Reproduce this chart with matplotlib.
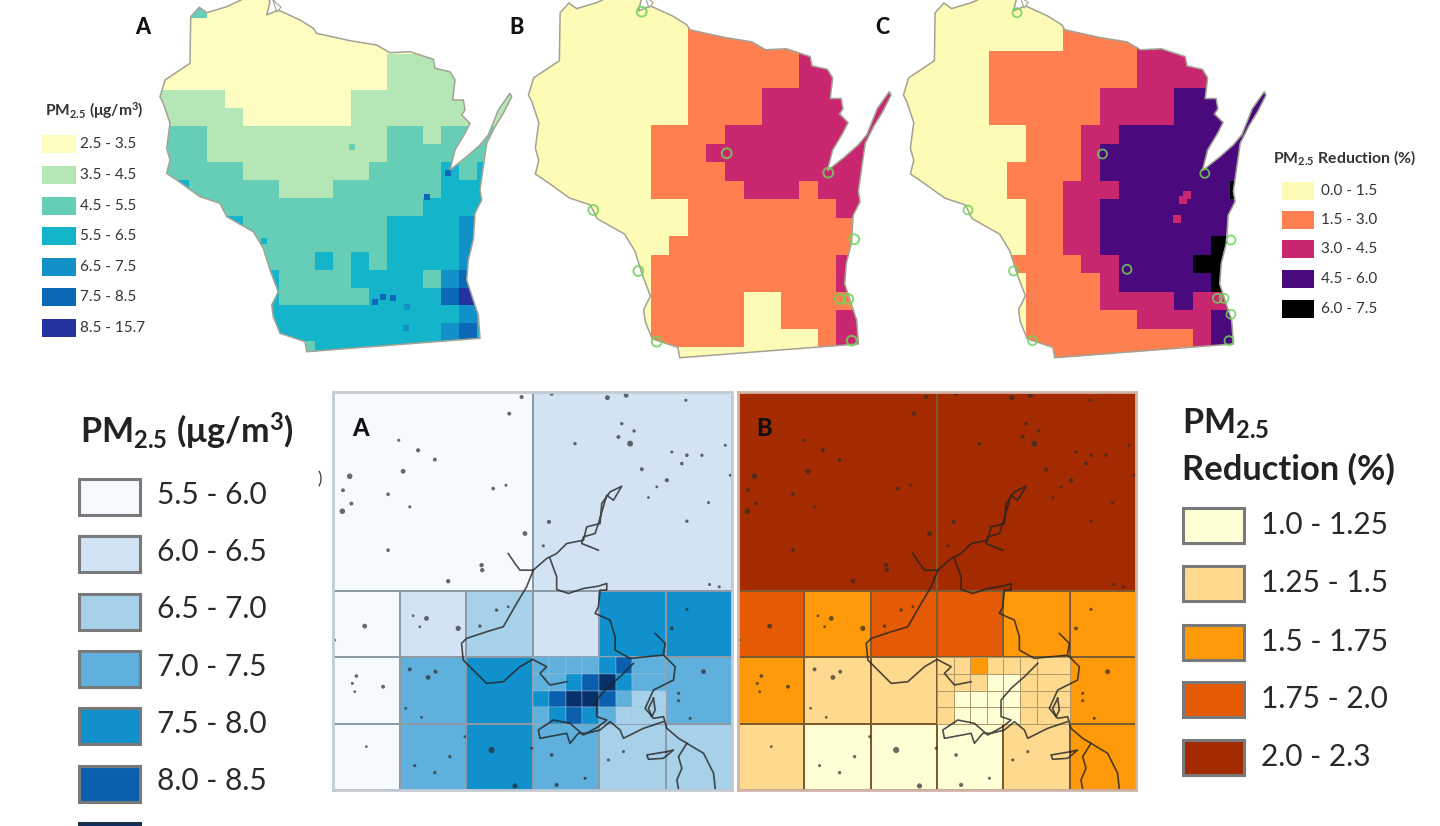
import numpy as np
import matplotlib
matplotlib.use("Agg")
import matplotlib.pyplot as plt
from matplotlib.colors import ListedColormap, BoundaryNorm
from matplotlib.patches import Polygon, Rectangle

plt.rcParams['font.family'] = ['Lato', 'DejaVu Sans']
plt.rcParams['mathtext.fontset'] = 'custom'
plt.rcParams['mathtext.rm'] = 'Lato'
plt.rcParams['mathtext.it'] = 'Lato:italic'
plt.rcParams['mathtext.bf'] = 'Lato:bold'
plt.rcParams['mathtext.default'] = 'bf'

# ---------- top maps: data ----------
pm_labels = ['2.5 - 3.5', '3.5 - 4.5', '4.5 - 5.5', '5.5 - 6.5', '6.5 - 7.5', '7.5 - 8.5', '8.5 - 15.7']
pm_colors = ['#FDFDC2', '#B4E6B6', '#66CEB6', '#14B5CB', '#1191C8', '#0A68B6', '#2432A0']
red_labels = ['0.0 - 1.5', '1.5 - 3.0', '3.0 - 4.5', '4.5 - 6.0', '6.0 - 7.5']
red_colors = ['#FDFBB6', '#FF7F50', '#C8276F', '#4A0A7E', '#000000']

map_a = [
    "00200000000000000000",
    "00000000000000000000",
    "00000000000000000000",
    "00000000000001111111",
    "00000000000001111111",
    "11110000000111111111",
    "11111000000111111111",
    "22211111111112212222",
    "22211111111112222222",
    "22222111111122223233",
    "23222221112222223333",
    "22222222222222233333",
    "22223222222223333433",
    "22222222222223333433",
    "22222222232323333433",
    "22222232222333324533",
    "22222232222233335633",
    "33333333333333333433",
    "33333333333333334533",
    "33333333233333333333",
]
map_b = [
    "00000000011111111111",
    "00000000011111111111",
    "00000000011111111111",
    "00000000011111122222",
    "00000000011111122222",
    "00000000011112222222",
    "00000000011112222222",
    "00000001111222222222",
    "00000001112222222222",
    "00000001111222222222",
    "00000001111122212222",
    "00000000011111111222",
    "00000000011111111111",
    "00000000111111111111",
    "00000001111111111222",
    "00000001111111111222",
    "00000001111100111111",
    "00000001111100111222",
    "00000001111100001222",
    "00000000000000000222",
]
map_c = [
    "00000000011111111111",
    "00000000011111111111",
    "00000000011112222222",
    "00000111111112222222",
    "00000111111112222222",
    "00000111111222233333",
    "00000111111222233333",
    "00000001112233333333",
    "00000001112333333333",
    "00000011112333333333",
    "00000011122233333343",
    "00000001122333333333",
    "00000001122333333333",
    "00000001122333333433",
    "00000011112233334433",
    "00000001111233333433",
    "00000001111222232222",
    "00000001111112222333",
    "00000001111111112333",
    "00000001111111112333",
]
outline_x = [190.7, 199.3, 206.7, 226.7, 245, 268, 270, 266.7, 278.3, 300, 313.3, 316.7, 350, 376.7, 390, 410, 433.3, 435,
             450, 455, 452.7, 463.3, 465, 461.7, 470, 465, 455, 450, 466.7, 480, 488.3, 498.3, 510, 511.7, 503.3, 495,
             486.7, 483.3, 480, 481.7, 475, 473.3, 468.3, 466.7, 473.3, 478.3, 480, 306.7, 305, 280, 273.3, 271.7, 278.3,
             270, 263.3, 253.3, 226.7, 220, 200, 176.7, 166.7, 170, 166.7, 170, 163.3, 160, 165, 190]
outline_y = [16.7, 7.3, 12.7, 6.7, -2, -2, 2, 15, 10, 20, 28.3, 33.3, 40.7, 45, 52.7, 51.7, 59.3, 68.3,
             71.7, 80, 100, 100, 110, 115, 123.3, 133.3, 150, 170, 156.7, 145, 135, 110, 93.3, 96.7, 113.3, 126.7,
             143.3, 166.7, 190, 200, 213.3, 240, 260, 280, 300, 315, 338.3, 351.7, 341.7, 333.3, 316.7, 305, 291.7,
             270, 248.3, 231.7, 216.7, 203.3, 196.7, 180, 173.3, 160, 148.3, 123.3, 103.3, 96.7, 80, 63.3]
bay_x = [272, 276, 281, 277, 272]
bay_y = [-2, 3, 7, 12, -2]
spots_a_x = [375, 383, 393, 427, 448, 407, 406, 352, 264]
spots_a_y = [302, 297, 298, 197, 173, 307, 328, 147, 241]
spots_a_c = [5, 5, 5, 5, 5, 4, 4, 2, 3]

sites_b_x = [641.7, 726.7, 828.3, 593.3, 854.3, 638.3, 840, 848.3, 656.7, 851.7]
sites_b_y = [11.7, 153.3, 172.7, 210, 239.3, 271, 299, 299, 341.7, 340.7]
sites_c_x = [1017, 1102.5, 1204.8, 968, 1231, 1013.5, 1127, 1217.4, 1224, 1231, 1032.5, 1229]
sites_c_y = [12.7, 154, 173.3, 210, 240, 271, 269.3, 298.3, 298.3, 314.3, 340.7, 340.7]
spots_c_x = [1183, 1187, 1177]
spots_c_y = [200, 195, 219]

# ---------- bottom panels: data ----------
blue_labels = ['5.5 - 6.0', '6.0 - 6.5', '6.5 - 7.0', '7.0 - 7.5', '7.5 - 8.0', '8.0 - 8.5']
blue_colors = ['#F6FAFE', '#D2E4F4', '#A7D0E9', '#5FB0DD', '#1090CC', '#0A60AE', '#08306B']
orange_labels = ['1.0 - 1.25', '1.25 - 1.5', '1.5 - 1.75', '1.75 - 2.0', '2.0 - 2.3']
orange_colors = ['#FFFFD6', '#FED98E', '#FE9A0A', '#E55A05', '#A42B00']

coarse_a = [[0, 1]]
coarse_b = [[4, 4]]
medium_a = [[0, 1, 2, 1, 4, 4], [0, 3, 4, 3, 3, 3], [0, 3, 4, 3, 2, 2]]
medium_b = [[3, 2, 3, 3, 2, 2], [2, 1, 1, 1, 1, 2], [1, 0, 0, 0, 1, 2]]
fine_a = [[3, 3, 3, 3, 4, 5, 3],
          [3, 3, 4, 5, 6, 4, 3],
          [4, 5, 6, 6, 5, 3, 2],
          [3, 4, 5, 4, 3, 2, 2]]
fine_b = [[1, 1, 2, 1, 1, 1, 1],
          [1, 1, 1, 0, 0, 1, 1],
          [1, 0, 0, 0, 0, 1, 1],
          [1, 0, 0, 0, 0, 1, 1]]
coasts = [
    ([565, 585, 600, 640, 680, 710, 740, 790, 800, 840, 845, 870, 905, 880, 860, 835, 825, 790, 785, 835],
     [520, 550, 570, 570, 535, 520, 490, 480, 440, 430, 370, 335, 318, 360, 345, 430, 460, 470, 490, 510]),
    ([640, 620, 590, 550, 500, 440, 425, 430, 470, 500, 550, 600, 638, 680, 660, 690, 740],
     [570, 620, 670, 740, 755, 775, 790, 840, 880, 910, 905, 860, 838, 860, 880, 915, 905]),
    ([690, 710, 710, 745, 790, 835, 860, 860, 840, 835, 825, 870, 885, 885, 930, 1030, 1065, 1060, 1000, 975, 1000, 1030, 1040, 1075, 1100, 1150, 1180, 1185],
     [535, 590, 628, 640, 625, 618, 610, 630, 630, 680, 700, 720, 770, 810, 835, 825, 860, 900, 930, 985, 1015, 1010, 1045, 1075, 1090, 1120, 1180, 1228]),
    ([1030, 1035, 1005], [820, 790, 760]),
    ([940, 900, 860, 830, 830, 860, 835, 790, 750, 700, 655, 660, 740, 750, 775, 800, 840, 870, 900, 910, 970, 1030],
     [850, 890, 925, 960, 1010, 1020, 1040, 1065, 1030, 1020, 1050, 1075, 1060, 1090, 1060, 1060, 1050, 1025, 1050, 1075, 1045, 1025]),
    ([1100, 1075, 1085, 1070, 1075], [1090, 1130, 1165, 1200, 1228]),
    ([1040, 980, 985, 1030, 1060, 1040], [1115, 1125, 1138, 1135, 1110, 1115]),
    ([1000, 985, 995, 1005, 1000], [955, 985, 1010, 990, 955]),
]
specks_x = [605, 695, 862, 918, 1097, 568, 237, 295, 345, 250, 90, 70, 205, 95, 68, 270, 520, 558, 205, 615, 485, 487, 385,
            905, 895, 942, 930, 765, 965, 1055, 1100, 1145, 1085, 1040, 1010, 985, 1165, 1100, 687, 670, 1168, 1197, 1215, 1230,
            135, 320, 280, 300, 415, 530, 565, 480, 45, 110, 98, 105, 190, 270, 325, 347, 258, 305, 1100, 1055, 1150, 1075, 1075,
            1110, 140, 285, 345, 390, 515, 435, 635, 695, 795, 710, 585, 865, 910]
specks_y = [50, 40, 52, 45, 60, 100, 180, 210, 238, 273, 288, 330, 342, 370, 393, 380, 325, 315, 510, 460, 555, 570, 603,
            130, 170, 152, 190, 190, 267, 215, 225, 225, 250, 300, 320, 352, 367, 423, 425, 497, 613, 620, 195, 285,
            738, 715, 707, 740, 745, 690, 680, 738, 780, 888, 910, 935, 920, 868, 892, 875, 985, 1012, 688, 745, 875, 940, 962,
            1015, 1100, 1157, 1178, 1130, 1110, 1070, 1105, 1125, 1195, 1215, 1218, 1140, 1115]
speck_sizes = [9, 9, 12, 12, 5, 8, 5, 9, 8, 12, 16, 8, 7, 8, 16, 5, 7, 5, 7, 12, 10, 10, 10,
               6, 8, 6, 18, 6, 8, 5, 7, 6, 7, 9, 4, 4, 5, 6, 9, 5, 5, 5, 5, 5,
               12, 12, 4, 4, 14, 6, 4, 6, 4, 7, 5, 4, 8, 8, 12, 8, 4, 4, 5, 8, 12, 5, 5,
               5, 4, 5, 6, 6, 20, 4, 5, 7, 5, 9, 14, 5, 5]

# ---------- figure ----------
W, H = 1440, 826
fig = plt.figure(figsize=(W / 100, H / 100), dpi=100, facecolor='white')
ax = fig.add_axes([0, 0, 1, 1])
ax.set_xlim(0, W)
ax.set_ylim(H, 0)
ax.axis('off')

outline_x = np.array(outline_x)
outline_y = np.array(outline_y)
col_edges = 152.67 + 18.0 * np.arange(21)
row_edges = 17.97 * np.arange(21)


def draw_map(rows, colors, sx, dx, sy, dy):
    grid = np.array([[int(c) for c in r] for r in rows])
    cmap = ListedColormap(colors)
    norm = BoundaryNorm(np.arange(len(colors) + 1) - 0.5, len(colors))
    mesh = ax.pcolormesh(col_edges * sx + dx, row_edges * sy + dy, grid, cmap=cmap, norm=norm, zorder=1)
    poly = Polygon(np.c_[outline_x * sx + dx, outline_y * sy + dy], closed=True, fc='none',
                   ec='#a3a394', lw=1.1, zorder=3)
    ax.add_patch(poly)
    mesh.set_clip_path(poly)
    ax.fill(np.array(bay_x) * sx + dx, np.array(bay_y) * sy + dy, fc='white', ec='#a3a394', lw=0.8, zorder=3)


draw_map(map_a, pm_colors, 1, 0, 1, 0)
draw_map(map_b, red_colors, 1.031, 363.5, 1.03, -4.5)
draw_map(map_c, red_colors, 1.031, 738.5, 1.03, -4.5)
ax.scatter(spots_a_x, spots_a_y, s=14, marker='s', c=[pm_colors[i] for i in spots_a_c], lw=0, zorder=2)
ax.scatter(spots_c_x, spots_c_y, s=28, marker='s', c=red_colors[2], lw=0, zorder=2)
ax.scatter(sites_b_x, sites_b_y, s=50, facecolors='none', edgecolors='#6fd35a', lw=1.4, alpha=0.85, zorder=4)
ax.scatter(sites_c_x, sites_c_y, s=42, facecolors='none', edgecolors='#6fd35a', lw=1.3, alpha=0.85, zorder=4)


def legend(x, ys, w, h, labels, colors, tx, fs, ec=None, lw=0.0, tcolor='#333333', dy=0):
    for y, lab, col in zip(ys, labels, colors):
        ax.add_patch(Rectangle((x, y), w, h, fc=col, ec=ec if ec else col, lw=lw, zorder=5))
        ax.text(tx, y + h / 2 + dy, lab, fontsize=fs, color=tcolor, va='center', ha='left', zorder=6)


legend(42, [135, 165.7, 196.7, 227.3, 257.7, 288.3, 319], 34, 18, pm_labels, pm_colors, 80, 11)
legend(1282, [181.7, 210.7, 240, 270, 300], 32, 18, red_labels, red_colors, 1321, 11)
ax.text(45, 111, r'$PM_{2.5}\ (\mu g/m^{3})$', fontsize=11.2, color='#333333', va='center')
ax.text(1273, 158, r'$PM_{2.5}\ Reduction\ (\%)$', fontsize=11.3, color='#333333', va='center')
for lab, x in zip('ABC', [143, 517, 882]):
    ax.text(x, 27, lab, fontsize=15.5, fontweight='black', color='#111111', ha='center', va='center')

legend(79, [479, 536, 593.5, 651, 708, 765.5], 61, 36, blue_labels, blue_colors, 157, 21.5,
       ec='#77797b', lw=2.2, tcolor='#2a2a2a', dy=-2)
ax.add_patch(Rectangle((79, 823), 61, 36, fc=blue_colors[6], ec='#1c2f4a', lw=2.2, zorder=5))
legend(1183, [508, 566, 624.5, 682, 739.5], 61, 35, orange_labels, orange_colors, 1261, 21.5,
       ec='#77797b', lw=2.2, tcolor='#2a2a2a')
ax.text(80, 431, r'$PM_{2.5}\ (\mu g/m^{3})$', fontsize=24.5, color='#222222', va='center')
ax.text(1182, 424, r'$PM_{2.5}$', fontsize=24.5, color='#222222', va='center')
ax.text(1182, 469, 'Reduction (%)', fontsize=24.8, fontweight='bold', color='#222222', va='center')
ax.text(318, 479, ')', fontsize=12, color='#333333', va='center')


def panel(x0, x1, coarse, medium, fine, colors, edge, finecol, finelw, frame, letter, lx):
    a = fig.add_axes([x0 / W, 1 - 790 / H, (x1 - x0) / W, 398 / H])
    a.set_xlim(0, 6)
    a.set_ylim(6, 0)
    a.set_xticks([])
    a.set_yticks([])
    cmap = ListedColormap(colors)
    norm = BoundaryNorm(np.arange(len(colors) + 1) - 0.5, len(colors))
    a.pcolormesh([0, 3, 6], [0, 3], np.array(coarse), cmap=cmap, norm=norm, edgecolors=edge, linewidth=1.2)
    a.pcolormesh(np.arange(7), [3, 4, 5, 6], np.array(medium), cmap=cmap, norm=norm, edgecolors=edge, linewidth=1.2)
    a.pcolormesh([3, 3.25, 3.5, 3.75, 4, 4.25, 4.5, 5], [4, 4.25, 4.5, 4.75, 5], np.array(fine), cmap=cmap,
                 norm=norm, edgecolors=finecol, linewidth=finelw, antialiased=True)
    for cx, cy in coasts:
        a.plot((np.array(cx) - 40) / 199.2, (np.array(cy) - 35) / 199.2, color='#222222', lw=1.2, alpha=0.8)
    a.scatter((np.array(specks_x) - 40) / 199.2, (np.array(specks_y) - 35) / 199.2, s=speck_sizes, marker='o',
              c='#2b2b2b', lw=0, alpha=0.7)
    for s in a.spines.values():
        s.set_color(frame)
        s.set_linewidth(2)
    a.text((lx - x0) / 66.33, 36 / 66.33, letter, fontsize=17, fontweight='black', color='#111111', ha='center', va='center')


panel(333, 732, coarse_a, medium_a, fine_a, blue_colors, '#8d9aa6', '#9fc4dc', 0.3, '#c3ccd4', 'A', 360)
panel(738, 1136, coarse_b, medium_b, fine_b, orange_colors, '#7d5a30', '#b09a68', 0.7, '#d2b3a8', 'B', 764)

fig.savefig('out.png', dpi=100)
